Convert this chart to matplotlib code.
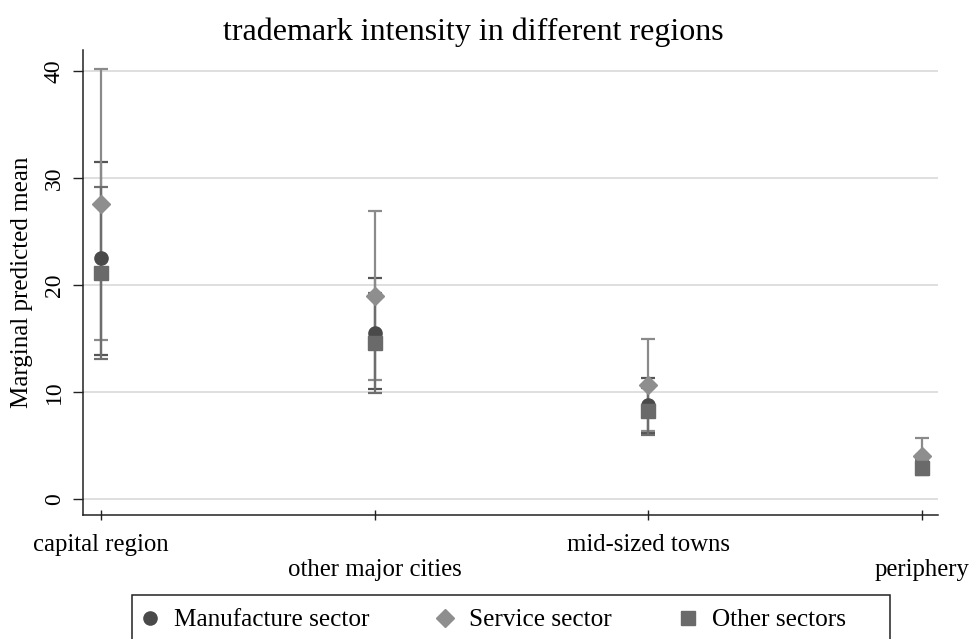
import matplotlib

matplotlib.use("Agg")
import matplotlib.pyplot as plt
import numpy as np
from matplotlib.lines import Line2D
from matplotlib.patches import Rectangle

# data (marginal predicted means with CIs)
regions = ["capital region", "other major cities", "mid-sized towns", "periphery"]
series = ["Manufacture sector", "Service sector", "Other sectors"]

manufacture_mean = [22.5, 15.5, 8.8, 3.2]
manufacture_lo = [13.5, 10.3, 6.2, 2.3]
manufacture_hi = [31.5, 20.7, 11.3, 4.1]

service_mean = [27.6, 19.0, 10.7, 4.0]
service_lo = [14.9, 11.1, 6.4, 2.4]
service_hi = [40.2, 26.9, 15.0, 5.7]

other_mean = [21.1, 14.6, 8.2, 2.9]
other_lo = [13.05, 9.9, 6.0, 2.2]
other_hi = [29.2, 19.3, 10.4, 3.6]

yticks = [0, 10, 20, 30, 40]

SERIES = [
    (manufacture_mean, manufacture_lo, manufacture_hi, "o", 9.5, "#4a4a4a", "#555555"),
    (service_mean, service_lo, service_hi, "D", 9.0, "#8e8e8e", "#8a8a8a"),
    (other_mean, other_lo, other_hi, "s", 9.5, "#6a6a6a", "#6e6e6e"),
]

plt.rcParams.update(
    {
        "font.family": ["Liberation Serif", "DejaVu Serif"],
        "figure.facecolor": "white",
        "axes.facecolor": "white",
    }
)

fig = plt.figure(figsize=(9.71, 6.39), dpi=100)
ax = fig.add_axes([83 / 971, 1 - 515 / 639, (938 - 83) / 971, (515 - 50) / 639])

x = np.arange(len(regions))

# confidence intervals first, markers on top
for mean, lo, hi, marker, ms, mcol, lcol in SERIES:
    mean = np.array(mean)
    err = np.vstack([mean - np.array(lo), np.array(hi) - mean])
    ax.errorbar(
        x, mean, yerr=err, fmt="none", ecolor=lcol, elinewidth=1.6,
        capsize=4.8, capthick=1.6, zorder=2,
    )
for mean, lo, hi, marker, ms, mcol, lcol in SERIES:
    ax.plot(x, mean, linestyle="none", marker=marker, markersize=ms,
            color=mcol, markeredgecolor=mcol, zorder=3)

ax.set_xlim(-0.066, 3.06)
ax.set_ylim(-1.5, 42)

ax.set_yticks(yticks)
ax.set_yticklabels([str(v) for v in yticks], rotation=90, va="center", fontsize=17)
ax.set_xticks(x)
ax.set_xticklabels(
    [lab if i % 2 == 0 else "\n" + lab for i, lab in enumerate(regions)],
    fontsize=17.8, linespacing=1.2,
)

ax.grid(axis="y", color="#dcdcdc", linewidth=1.3)
ax.set_axisbelow(True)
for side in ("top", "right"):
    ax.spines[side].set_visible(False)
for side in ("left", "bottom"):
    ax.spines[side].set_color("#222222")
    ax.spines[side].set_linewidth(1.1)

ax.tick_params(axis="y", direction="out", length=7, width=1.0, color="#222222", pad=6)
ax.tick_params(axis="x", direction="inout", length=7, width=1.0, color="#222222", pad=10)

ax.set_ylabel("Marginal predicted mean", fontsize=18)
ax.yaxis.set_label_coords(-0.058, 0.5)

fig.text(473 / 971, 1 - 32 / 639, "trademark intensity in different regions",
         ha="center", va="center", fontsize=23)

# legend box in the bottom strip, cut by the figure edge like the reference
fig.patches.append(
    Rectangle((132 / 971, -0.02), (890 - 132) / 971, (639 - 595) / 639 + 0.02,
              transform=fig.transFigure, fill=False, edgecolor="#222222", linewidth=1.1)
)
handles = [
    Line2D([], [], linestyle="none", marker=m, markersize=ms, color=mc)
    for (_, _, _, m, ms, mc, _) in SERIES
]
fig.legend(
    handles, series, loc="center left", bbox_to_anchor=(140 / 971, 1 - 620 / 639),
    ncol=3, frameon=False, fontsize=18.2, handlelength=0.8, handletextpad=0.55,
    columnspacing=2.6, borderaxespad=0, borderpad=0,
)

fig.savefig("out.png", dpi=100)
